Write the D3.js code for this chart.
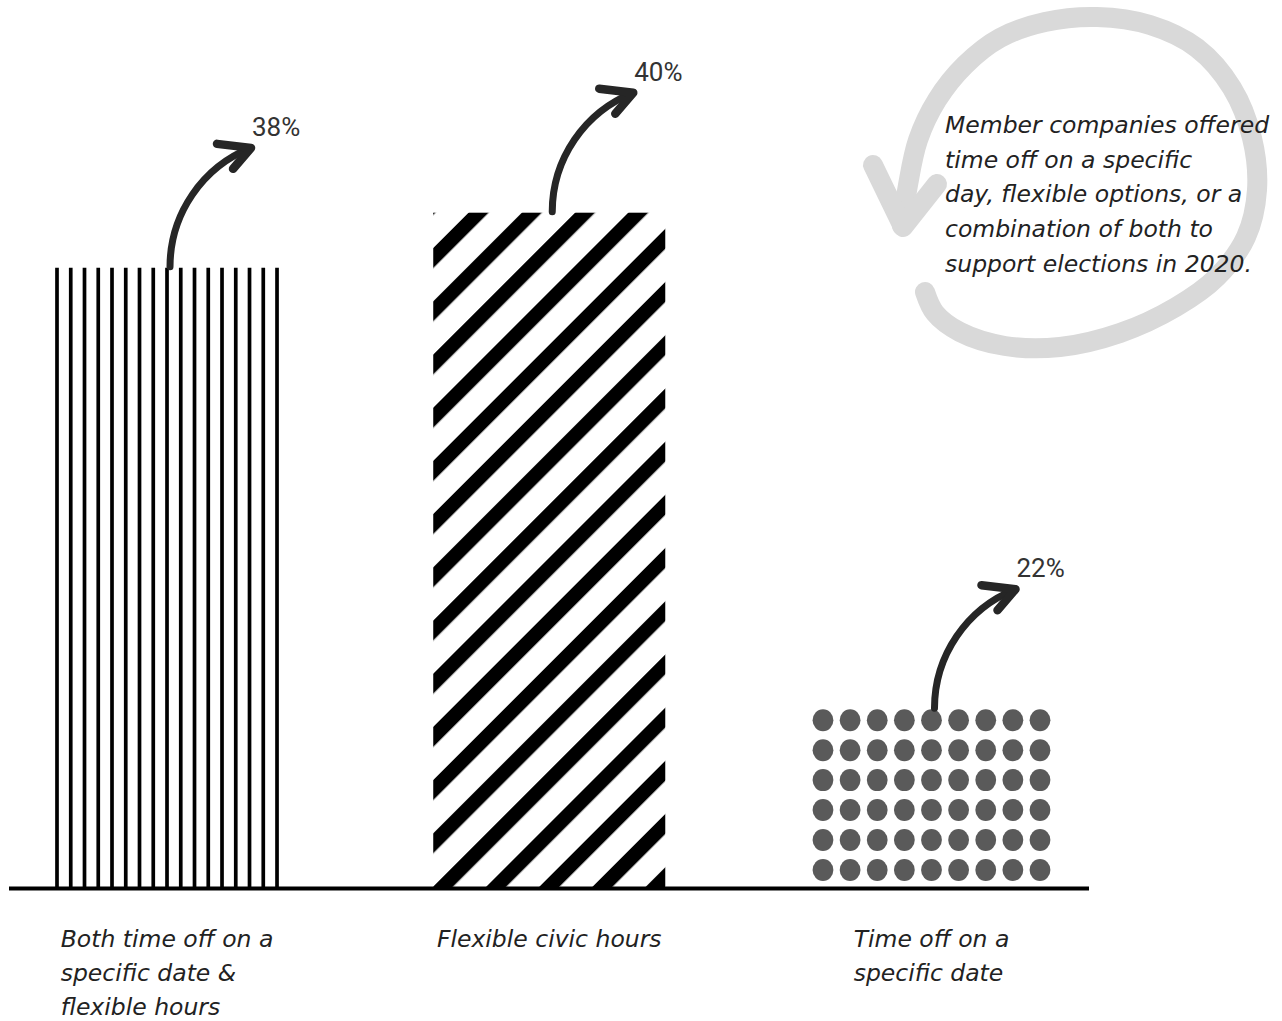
<!DOCTYPE html>
<html>
<head>
<meta charset="utf-8">
<script src="https://cdn.jsdelivr.net/npm/d3@7"></script>
<style>
  html, body { margin: 0; padding: 0; background: #ffffff; }
  svg { display: block; }
</style>
</head>
<body>
<div id="chart"></div>
<script>
// ---------------- data ----------------
const categories = [
  "Both time off on a specific date & flexible hours",
  "Flexible civic hours",
  "Time off on a specific date"
];
const values = [38, 40, 22];
const valueLabels = ["38%", "40%", "22%"];
const categoryLines = [
  ["Both time off on a", "specific date &", "flexible hours"],
  ["Flexible civic hours"],
  ["Time off on a", "specific date"]
];
const fillStyles = ["lines", "stripes", "dots"];
const annotationLines = [
  "Member companies offered",
  "time off on a specific",
  "day, flexible options, or a",
  "combination of both to",
  "support elections in 2020."
];

// ---------------- layout ----------------
const W = 1282, H = 1021;
const baseY = 888.5;
const svg = d3.select("#chart").append("svg").attr("width", W).attr("height", H);
svg.append("rect").attr("width", W).attr("height", H).attr("fill", "#fff");

const x = d3.scaleBand().domain(categories).range([51, 1047.5]).paddingInner(0.393).paddingOuter(0);
// truncated value axis (as in the original design)
const y = d3.scaleLinear().domain([15.5, 40]).range([baseY, 212.7]);

const data = categories.map((c, i) => ({ cat: c, v: values[i], label: valueLabels[i], lines: categoryLines[i], style: fillStyles[i] }));

// ---------------- decorative loop arrow ----------------
const loopPts = [[902,226],[908,185],[918,140],[937,100],[965,65],[1000,38],[1045,22],[1097,17],[1150,25],[1197,48],[1232,88],[1252,138],[1257,190],[1246,237],[1217,277],[1176,307],[1120,333],[1060,347],[1005,346],[960,332],[935,313],[925,292]];
const loopG = svg.append("g");
loopG.append("path")
  .attr("d", d3.line().curve(d3.curveCatmullRom.alpha(0.5))(loopPts))
  .attr("fill", "none").attr("stroke", "#d9d9d9").attr("stroke-width", 20)
  .attr("stroke-linecap", "round").attr("stroke-linejoin", "round");
loopG.append("path")
  .attr("d", "M873,165 L903,227 L937,184")
  .attr("fill", "none").attr("stroke", "#d9d9d9").attr("stroke-width", 20)
  .attr("stroke-linecap", "round").attr("stroke-linejoin", "round");

// ---------------- defs: stripe pattern ----------------
const defs = svg.append("defs");
const P = 53.2 / Math.SQRT2;
const stripeW = 20 / Math.SQRT2;

// ---------------- bars ----------------
const barsG = svg.append("g");
data.forEach((d, i) => {
  const x0 = x(d.cat), bw = x.bandwidth();
  const top = y(d.v);
  const g = barsG.append("g");
  if (d.style === "lines") {
    const n = 17;
    const xs = d3.range(n).map(k => x0 + 6 + k * (bw - 12) / (n - 1));
    g.selectAll("line").data(xs).join("line")
      .attr("x1", v => v).attr("x2", v => v)
      .attr("y1", top).attr("y2", baseY)
      .attr("stroke", "#000").attr("stroke-width", 3.7);
  } else if (d.style === "stripes") {
    const uStart = x0 + baseY - 2;
    const off = ((uStart / Math.SQRT2) % P + P) % P;
    const pat = defs.append("pattern").attr("id", "stripes" + i)
      .attr("patternUnits", "userSpaceOnUse").attr("width", P).attr("height", 40)
      .attr("patternTransform", `rotate(45) translate(${off},0)`);
    pat.append("rect").attr("x", 0).attr("y", 0).attr("width", stripeW).attr("height", 40).attr("fill", "#000");
    g.append("rect").attr("x", x0).attr("y", top).attr("width", bw).attr("height", baseY - top)
      .attr("fill", `url(#stripes${i})`);
  } else if (d.style === "dots") {
    const cols = 9, ry = 11, rx = 10.4;
    const rows = Math.round((baseY - top) / 30);
    const cy0 = top + ry, cy1 = baseY - 7.5 - ry;
    const pts = [];
    for (let r = 0; r < rows; r++) for (let c = 0; c < cols; c++) {
      pts.push([x0 + 7.5 + c * (bw - 15) / (cols - 1), rows > 1 ? cy0 + r * (cy1 - cy0) / (rows - 1) : cy0]);
    }
    g.selectAll("ellipse").data(pts).join("ellipse")
      .attr("cx", p => p[0]).attr("cy", p => p[1]).attr("rx", rx).attr("ry", ry)
      .attr("fill", "#5a5a5a");
  }
});

// baseline
svg.append("line").attr("x1", 9).attr("x2", 1089).attr("y1", baseY).attr("y2", baseY)
  .attr("stroke", "#000").attr("stroke-width", 4);

// ---------------- value arrows + labels ----------------
const arrowsG = svg.append("g");
data.forEach(d => {
  const sx = x(d.cat) + x.bandwidth() / 2 + 3;
  const sy = y(d.v) - 1;
  const tx = sx + 81, ty = sy - 119;
  arrowsG.append("path")
    .attr("d", `M${sx},${sy} A128,128 0 0,1 ${tx},${ty}`)
    .attr("fill", "none").attr("stroke", "#262626").attr("stroke-width", 7).attr("stroke-linecap", "round");
  arrowsG.append("path")
    .attr("d", `M${tx - 34},${ty - 4} L${tx},${ty} L${tx - 18},${ty + 21}`)
    .attr("fill", "none").attr("stroke", "#262626").attr("stroke-width", 8.5)
    .attr("stroke-linecap", "round").attr("stroke-linejoin", "round");
  arrowsG.append("text")
    .attr("x", tx + 1).attr("y", ty - 12)
    .attr("font-family", "Roboto, 'DejaVu Sans', sans-serif").attr("font-size", 26)
    .attr("fill", "#333").text(d.label);
});

// ---------------- category labels ----------------
const labelFont = "'DejaVu Sans', 'Noto Sans', sans-serif";
const labelSize = 23.5;
data.forEach(d => {
  const cx = x(d.cat) + x.bandwidth() / 2;
  const t = svg.append("text")
    .attr("font-family", labelFont).attr("font-style", "italic").attr("font-size", labelSize)
    .attr("fill", "#222");
  const spans = t.selectAll("tspan").data(d.lines).join("tspan")
    .attr("y", (s, k) => 947 + k * 34).text(s => s);
  const maxW = d3.max(spans.nodes(), n => n.getComputedTextLength());
  spans.attr("x", cx - maxW / 2);
});

// ---------------- annotation ----------------
const ann = svg.append("text")
  .attr("font-family", labelFont).attr("font-style", "italic").attr("font-size", labelSize)
  .attr("fill", "#222");
ann.selectAll("tspan").data(annotationLines).join("tspan")
  .attr("x", 945).attr("y", (s, k) => 133 + k * 34.7).text(s => s);
</script>
</body>
</html>
